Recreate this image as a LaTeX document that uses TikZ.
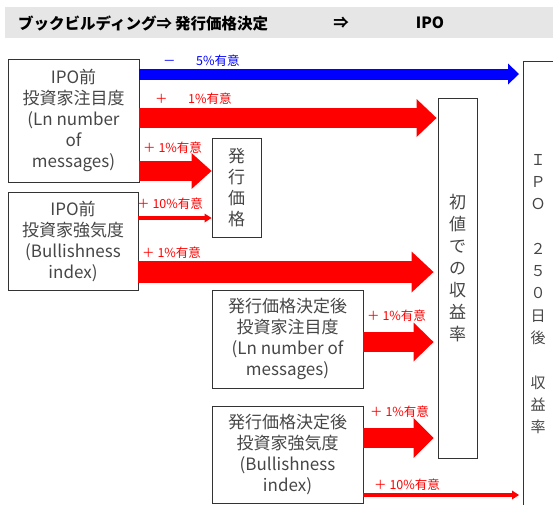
\documentclass[tikz,border=0pt]{standalone}
\usepackage{fontspec}
\setmainfont{Noto Sans CJK JP}
\usetikzlibrary{arrows.meta}
\definecolor{boxtext}{HTML}{464646}
\definecolor{hdrgray}{HTML}{E6E6E6}
\definecolor{arrred}{HTML}{FF0000}
\definecolor{arrblue}{HTML}{0000FF}
\begin{document}
\begin{tikzpicture}[x=1pt,y=-1pt,
  box/.style={draw=black!80, line width=0.9pt, inner sep=0pt, text=boxtext, align=center, font=\fontsize{17}{21}\selectfont},
  vtext/.style={inner sep=0pt, text=boxtext, align=center},
  lbl/.style={anchor=west, inner sep=0pt, text=arrred, font=\fontsize{12.5}{12.5}\selectfont},
  fatarrow/.style={draw=arrred, line width=20pt, -{Triangle[width=38pt,length=20pt,line width=0pt]}},
  thinarrow/.style={draw=arrred, line width=4pt, -{Triangle[width=9pt,length=7pt,line width=0pt]}},
  hdrtext/.style={inner sep=0pt, font=\bfseries\fontsize{15.5}{15.5}\selectfont},
]
\clip (0,0) rectangle (553,504);
% header
\node[fill=hdrgray, minimum width=548pt, minimum height=31pt, inner sep=0pt] (hdr) at (279,22.5) {};
\node[hdrtext, anchor=west] (h1) at (18,23) {ブックビルディング⇒\hspace{3pt}発行価格決定};
\node[hdrtext] (h2) at (341,23) {⇒};
\node[hdrtext] (h3) at (430,23) {IPO};
% boxes
\node[box, minimum width=131pt, minimum height=123pt] (b1) at (73.5,120.5) {IPO前\\投資家注目度\\(Ln number\\of\\messages)};
\node[box, minimum width=130pt, minimum height=98pt] (b2) at (73,241) {IPO前\\投資家強気度\\(Bullishness\\index)};
\node[box, minimum width=49pt, minimum height=99pt] (hk) at (236.5,187.5) {発\\行\\価\\格};
\node[box, minimum width=39pt, minimum height=360pt] (sh) at (457.5,278) {};
\node[vtext, font=\fontsize{17}{22}\selectfont] (sht) at (457.5,268) {初\\値\\で\\の\\収\\益\\率};
\node[box, minimum width=60pt, minimum height=460pt, anchor=north west] (ipo) at (523,61) {};
\node[vtext, font=\fontsize{15}{22.3}\selectfont] (ipot) at (538,294) {Ｉ\\Ｐ\\Ｏ\\\mbox{}\\２\\５\\０\\日\\後\\\mbox{}\\収\\益\\率};
\node[box, minimum width=151pt, minimum height=98pt] (b3) at (287.5,339) {発行価格決定後\\投資家注目度\\(Ln number of\\messages)};
\node[box, minimum width=151pt, minimum height=97pt] (b4) at (287.5,454.5) {発行価格決定後\\投資家強気度\\(Bullishness\\index)};
% arrows
\draw[draw=arrblue, line width=11pt, -{Triangle[width=21pt,length=11pt,line width=0pt]}, shorten >=4pt] (b1.east |- 0,74) -- (ipo.west |- 0,74);
\draw[fatarrow, shorten >=1pt] (b1.east |- 0,118) -- (sh.west |- 0,118);
\draw[fatarrow, -{Triangle[width=36pt,length=20pt,line width=0pt]}] (b1.east |- 0,171) -- (hk.west |- 0,171);
\draw[thinarrow] (b2.east |- 0,218) -- (hk.west |- 0,218);
\draw[fatarrow, line width=22pt, -{Triangle[width=41pt,length=22pt,line width=0pt]}, shorten >=4pt] (b2.east |- 0,272) -- (sh.west |- 0,272);
\draw[fatarrow, -{Triangle[width=39pt,length=20pt,line width=0pt]}, shorten >=4pt] (b3.east |- 0,342) -- (sh.west |- 0,342);
\draw[fatarrow, -{Triangle[width=40pt,length=20pt,line width=0pt]}, shorten >=4pt] (b4.east |- 0,438) -- (sh.west |- 0,438);
\draw[thinarrow, shorten >=4pt] (b4.east |- 0,495) -- (ipo.west |- 0,495);
% labels
\node[lbl, text=arrblue] (l1) at (163,61) {－　\hspace{8pt}5\%有意};
\node[lbl] (l2) at (155,99) {＋　\hspace{8pt}1\%有意};
\node[lbl] (l3) at (143,148) {＋ 1\%有意};
\node[lbl] (l4) at (137,204) {＋ 10\%有意};
\node[lbl] (l5) at (142,253) {＋ 1\%有意};
\node[lbl] (l6) at (367,316) {＋ 1\%有意};
\node[lbl] (l7) at (370,412) {＋ 1\%有意};
\node[lbl] (l8) at (374,485) {＋ 10\%有意};
\end{tikzpicture}
\end{document}
